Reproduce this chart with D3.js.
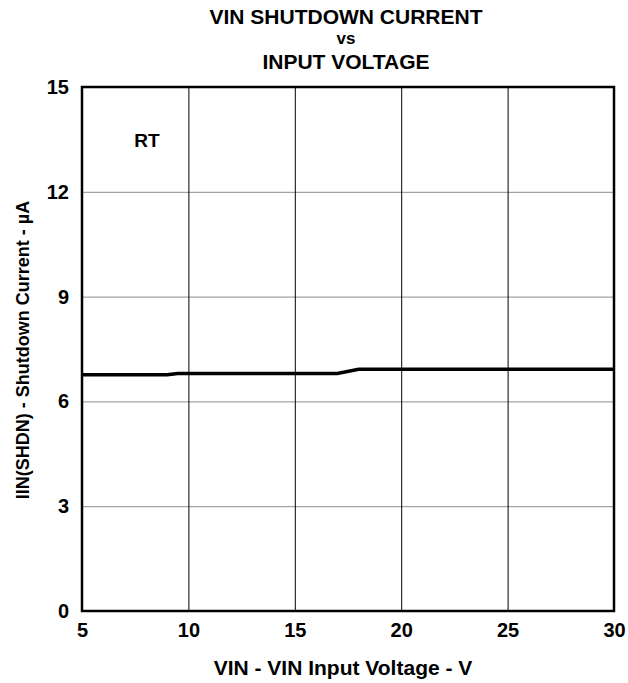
<!DOCTYPE html>
<html>
<head>
<meta charset="utf-8">
<script src="https://d3js.org/d3.v7.min.js"></script>
<style>
  body { margin: 0; background: #fff; }
  svg text { font-family: "Liberation Sans", Arial, sans-serif; font-weight: bold; fill: #000; }
  .grid-y line { stroke: #8c8c8c; stroke-width: 1; }
  .grid-x line { stroke: #000; stroke-width: 1; }
  .grid-y .domain, .grid-x .domain { stroke: none; }
  .axis .domain, .axis line { stroke: none; }
</style>
</head>
<body>
<svg id="chart" width="628" height="683"></svg>
<script>
// data
const vin = [5, 9, 9.5, 17, 18, 30];
const iShdn = [6.76, 6.76, 6.80, 6.80, 6.92, 6.92];

const xTicks = [5, 10, 15, 20, 25, 30];
const yTicks = [0, 3, 6, 9, 12, 15];

const titleLines = ["VIN SHUTDOWN CURRENT", "vs", "INPUT VOLTAGE"];
const xLabel = "VIN - VIN Input Voltage  - V";
const yLabel = "IIN(SHDN) - Shutdown Current - µA";

const svg = d3.select("#chart");
const margin = {top: 87, right: 14, bottom: 72, left: 82};
const width = 628, height = 683;
const chartWidth = width - margin.left - margin.right;
const chartHeight = height - margin.top - margin.bottom;

const x = d3.scaleLinear().domain([5, 30]).range([0, chartWidth]);
const y = d3.scaleLinear().domain([0, 15]).range([chartHeight, 0]);

const g = svg.append("g").attr("transform", "translate(" + margin.left + "," + margin.top + ")");

// gridlines
g.append("g").attr("class", "grid-y")
  .call(d3.axisLeft(y).tickValues(yTicks.slice(1, -1)).tickSize(-chartWidth).tickFormat(""));
g.append("g").attr("class", "grid-x")
  .attr("transform", "translate(0," + chartHeight + ")")
  .call(d3.axisBottom(x).tickValues(xTicks.slice(1, -1)).tickSize(-chartHeight).tickFormat(""));

// tick labels
const xAxis = g.append("g").attr("class", "axis")
  .attr("transform", "translate(0," + chartHeight + ")")
  .call(d3.axisBottom(x).tickValues(xTicks).tickSize(0).tickPadding(12));
xAxis.selectAll("text").style("font-size", "20px");

const yAxis = g.append("g").attr("class", "axis")
  .call(d3.axisLeft(y).tickValues(yTicks).tickSize(0).tickPadding(13));
yAxis.selectAll("text").style("font-size", "20px");

// curve
const line = d3.line().x(d => x(d[0])).y(d => y(d[1]));
g.append("path")
  .datum(vin.map((v, i) => [v, iShdn[i]]))
  .attr("d", line)
  .attr("fill", "none")
  .attr("stroke", "#000")
  .attr("stroke-width", 3.5);

// border
g.append("rect")
  .attr("width", chartWidth).attr("height", chartHeight)
  .attr("fill", "none").attr("stroke", "#000").attr("stroke-width", 2.5);

// RT label
svg.append("text").attr("x", 147).attr("y", 147)
  .attr("text-anchor", "middle").style("font-size", "19px").text("RT");

// title
const titleX = 346;
svg.append("text").attr("x", titleX).attr("y", 24).attr("text-anchor", "middle")
  .style("font-size", "21px").text(titleLines[0]);
svg.append("text").attr("x", titleX).attr("y", 44).attr("text-anchor", "middle")
  .style("font-size", "17px").text(titleLines[1]);
svg.append("text").attr("x", titleX).attr("y", 69).attr("text-anchor", "middle")
  .style("font-size", "21px").text(titleLines[2]);

// axis labels
svg.append("text").attr("x", 343).attr("y", 675).attr("text-anchor", "middle")
  .style("font-size", "21px").text(xLabel);
svg.append("text")
  .attr("transform", "translate(29,350) rotate(-90)")
  .attr("text-anchor", "middle").style("font-size", "18px").text(yLabel);
</script>
</body>
</html>
